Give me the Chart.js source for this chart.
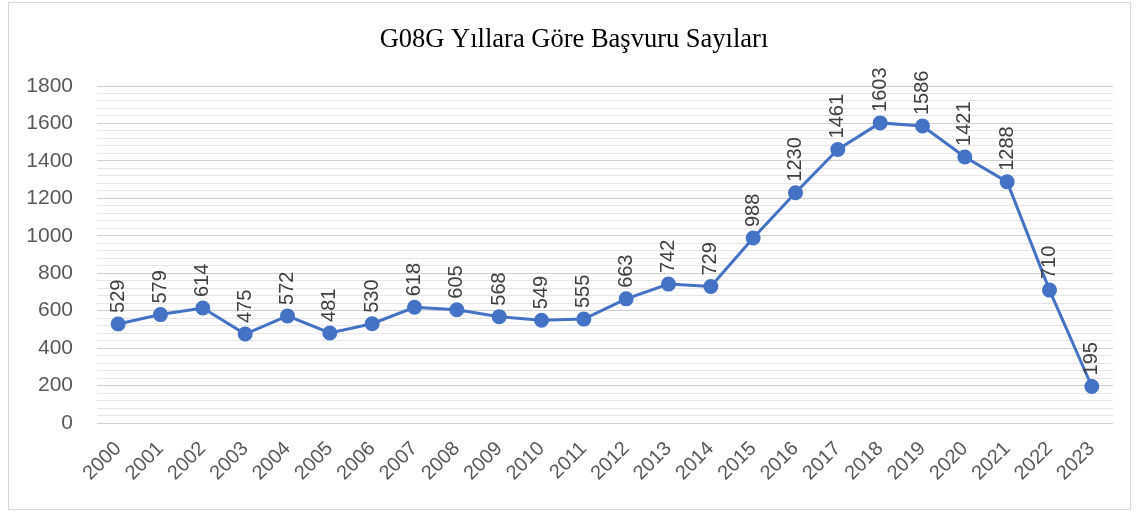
<!DOCTYPE html>
<html>
<head>
<meta charset="utf-8">
<script src="https://cdn.jsdelivr.net/npm/chart.js@4"></script>
<style>
  html, body { margin: 0; padding: 0; background: #fff; }
  #wrap { width: 1139px; height: 513px; position: relative; }
</style>
</head>
<body>
<div id="wrap"><canvas id="basvuruChart"></canvas></div>
<script>
// Veriler
const years = ['2000', '2001', '2002', '2003', '2004', '2005', '2006', '2007', '2008', '2009', '2010', '2011',
  '2012', '2013', '2014', '2015', '2016', '2017', '2018', '2019', '2020', '2021', '2022', '2023'];
const applications = [529, 579, 614, 475, 572, 481, 530, 618, 605, 568, 549, 555,
  663, 742, 729, 988, 1230, 1461, 1603, 1586, 1421, 1288, 710, 195];
const yTickValues = [0, 200, 400, 600, 800, 1000, 1200, 1400, 1600, 1800];
const chartTitle = 'G08G Yıllara Göre Başvuru Sayıları';

const sansFont = '"Liberation Sans", Arial, sans-serif';

// Dış çerçeve ve başlık
const frame = {
  id: 'frame',
  beforeDraw(chart) {
    const ctx = chart.ctx;
    ctx.save();
    ctx.fillStyle = '#fff';
    ctx.fillRect(0, 0, chart.width, chart.height);
    ctx.strokeStyle = '#d9d9d9';
    ctx.lineWidth = 1;
    ctx.strokeRect(8.5, 2.5, 1122, 507);
    ctx.fillStyle = '#000';
    ctx.font = '26.5px "Liberation Serif", "Times New Roman", serif';
    ctx.textAlign = 'center';
    ctx.textBaseline = 'middle';
    ctx.fillText(chartTitle, 574, 40);
    ctx.restore();
  }
};

// Dikey veri etiketleri
const pointLabels = {
  id: 'pointLabels',
  afterDatasetsDraw(chart) {
    const ctx = chart.ctx;
    const meta = chart.getDatasetMeta(0);
    ctx.save();
    ctx.font = '20px ' + sansFont;
    ctx.fillStyle = '#404040';
    ctx.textAlign = 'left';
    ctx.textBaseline = 'middle';
    meta.data.forEach((pt, i) => {
      ctx.save();
      ctx.translate(pt.x, pt.y - 11);
      ctx.rotate(-Math.PI / 2);
      ctx.fillText(String(applications[i]), 0, 0);
      ctx.restore();
    });
    ctx.restore();
  }
};

const ctx = document.getElementById('basvuruChart').getContext('2d');
const basvuruChart = new Chart(ctx, {
  type: 'line',
  data: {
    labels: years,
    datasets: [{
      label: 'Başvuru',
      data: applications,
      borderColor: '#4472C4',
      backgroundColor: '#4472C4',
      borderWidth: 3,
      pointRadius: 6,
      pointHoverRadius: 6,
      tension: 0
    }]
  },
  options: {
    responsive: true,
    maintainAspectRatio: false,
    animation: false,
    layout: { padding: { left: 0, right: 26, top: 86, bottom: 0 } },
    plugins: {
      legend: { display: false },
      tooltip: { enabled: false },
      title: { display: false }
    },
    scales: {
      x: {
        offset: true,
        grid: { display: false },
        border: { display: false },
        afterFit: (s) => { s.height = 90; },
        ticks: {
          color: '#595959',
          font: { family: sansFont, size: 20 },
          minRotation: 45,
          maxRotation: 45,
          padding: 6
        }
      },
      y: {
        min: 0,
        max: 1800,
        border: { display: false },
        afterFit: (s) => { s.width = 97; },
        grid: {
          color: (c) => yTickValues.includes(c.tick.value) ? '#d0d0d0' : '#e6e6e6',
          lineWidth: 1,
          drawTicks: false
        },
        ticks: {
          stepSize: 40,
          autoSkip: false,
          maxTicksLimit: 100,
          color: '#595959',
          font: { family: sansFont, size: 21 },
          padding: 24,
          callback: (v) => yTickValues.includes(v) ? v : ''
        }
      }
    }
  },
  plugins: [frame, pointLabels]
});
</script>
</body>
</html>
